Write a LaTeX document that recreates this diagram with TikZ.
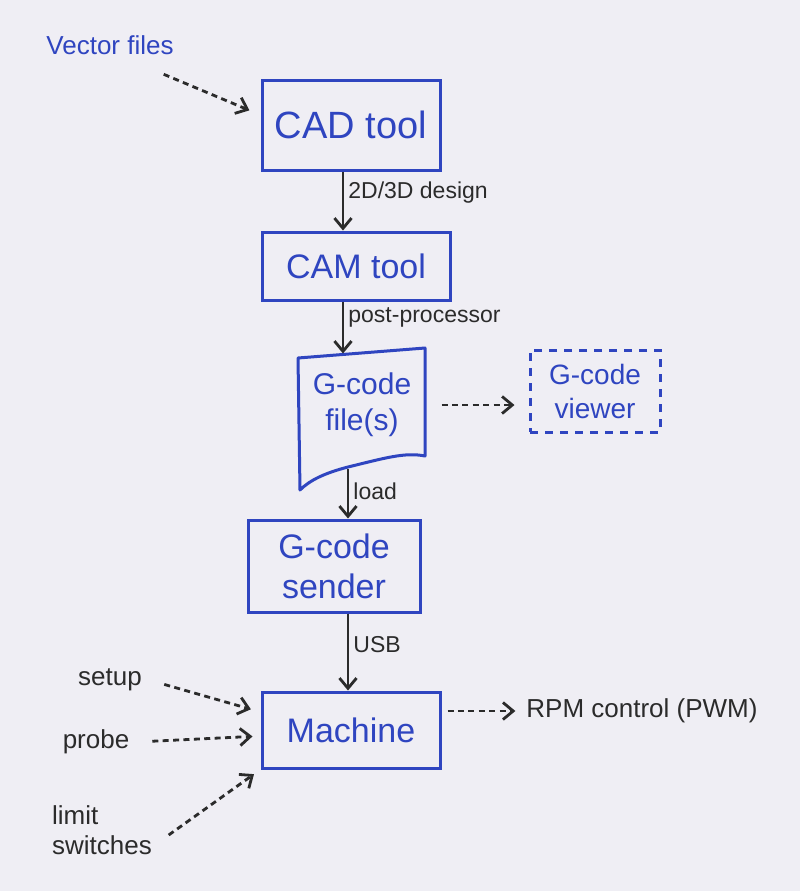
\documentclass[tikz,border=0pt]{standalone}
\usepackage{fontspec}
\setmainfont{Liberation Sans}
\usetikzlibrary{arrows.meta,positioning}
\definecolor{penblue}{HTML}{2F45C0}
\definecolor{inkx}{HTML}{2B2B2B}
\definecolor{paperbg}{HTML}{EFEEF4}
\tikzset{
  ar/.style={-{Straight Barb[length=1.8mm,width=3mm]},line width=1.4pt,inkx},
  dar/.style={ar,dash pattern=on 3pt off 2.2pt},
  box/.style={draw=penblue,line width=1.5pt,text=penblue,align=center,font=\fontsize{17}{20}\selectfont},
  lbl/.style={text=inkx,font=\fontsize{11.5}{14}\selectfont,inner sep=2pt},
  side/.style={text=inkx,font=\fontsize{13}{15}\selectfont,align=left}
}

\begin{document}
\begin{tikzpicture}[x=0.5pt,y=-0.5pt]
\fill[paperbg] (0,0) rectangle (800,891);
\node[side,text=penblue] (vec) at (110,45) {Vector files};
\node[box,minimum width=89pt,minimum height=45pt,font=\fontsize{19}{22}\selectfont] (cad) at (351,125) {CAD tool};
\node[box,minimum width=94pt,minimum height=34pt] (cam) at (356,266) {CAM tool};
\node[box,draw=none,minimum width=64pt,minimum height=50pt,font=\fontsize{15}{18}\selectfont] (gfile) at (362,405) {G-code\\file(s)};
\draw[penblue,line width=1.5pt,line join=round] (298,358) -- (425,348) -- (425,456)
  .. controls (405,452) and (385,458) .. (348,467) .. controls (325,473) and (310,480) .. (300,490) -- cycle;
\coordinate (gbot) at (348,469);
\node[box,dash pattern=on 4pt off 3.5pt,minimum width=65pt,minimum height=41pt,font=\fontsize{14}{17}\selectfont] (view) at (595,391) {G-code\\viewer};
\node[box,minimum width=86pt,minimum height=46pt] (send) at (334,566) {G-code\\sender};
\node[box,minimum width=89pt,minimum height=38pt] (mach) at (351,730) {Machine};
\node[side] (rpm) at (642,711) {RPM control (PWM)};
\node[side] (setup) at (110,680) {setup};
\node[side] (probe) at (96,742) {probe};
\node[side] (lim) at (102,830) {limit\\switches};
\draw[dar,shorten <=6pt,shorten >=6pt] ([xshift=-14pt,yshift=-4pt]vec.south east) -- ([yshift=5pt]cad.west);
\draw[ar] (cad.south) ++(-8,0) coordinate (c1) -- (c1 |- cam.north) node[lbl,right,pos=0.35] {2D/3D design};
\draw[ar] (cam.south -| c1) -- (c1 |- gfile.north) node[lbl,right,pos=0.3] {post-processor};
\draw[dar,shorten <=7pt,shorten >=7pt] (gfile.east) -- (view.west |- gfile.east);
\draw[ar] (gbot) -- (gbot |- send.north) node[lbl,right,pos=0.45] {load};
\draw[ar] (gbot |- send.south) -- (gbot |- mach.north) node[lbl,right,pos=0.4] {USB};
\draw[dar,shorten <=3pt,shorten >=2pt] (mach.east |- rpm) -- (rpm.west);
\draw[dar,shorten <=8pt,shorten >=5pt] (setup.east) -- ([yshift=9pt]mach.west);
\draw[dar,shorten <=8pt,shorten >=4pt] (probe.east) -- ([yshift=-3pt]mach.west);
\draw[dar,shorten <=6pt,shorten >=4pt] ([yshift=-6pt]lim.east) -- (mach.south west);
\end{tikzpicture}
\end{document}
